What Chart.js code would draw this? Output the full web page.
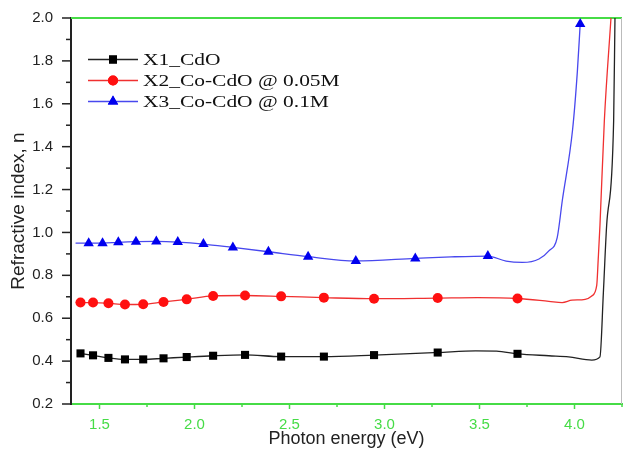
<!DOCTYPE html>
<html>
<head>
<meta charset="utf-8">
<script src="https://cdn.jsdelivr.net/npm/chart.js@4.4.1/dist/chart.umd.min.js"></script>
<style>
  html, body { margin: 0; padding: 0; background: #fff; }
  #wrap { width: 628px; height: 454px; }
</style>
</head>
<body>
<div id="wrap"><canvas id="chart"></canvas></div>
<script>
const seriesNames = ['X1_CdO', 'X2_Co-CdO @ 0.05M', 'X3_Co-CdO @ 0.1M'];

// X1_CdO : marked points and extra curve samples (photon energy eV, n)
const x1MarkE = [1.400, 1.466, 1.547, 1.634, 1.730, 1.837, 1.959, 2.098, 2.266, 2.456, 2.681, 2.945, 3.280, 3.700];
const x1MarkN = [0.436, 0.427, 0.415, 0.408, 0.408, 0.413, 0.419, 0.425, 0.429, 0.421, 0.421, 0.428, 0.440, 0.434];
const x1CurveE = [3.480, 3.590, 3.865, 3.969, 4.091, 4.134, 4.152, 4.169, 4.206, 4.213];
const x1CurveN = [0.448, 0.447, 0.425, 0.420, 0.405, 0.420, 0.720, 1.030, 1.520, 2.000];

// X2_Co-CdO @ 0.05M
const x2MarkE = [1.400, 1.466, 1.547, 1.634, 1.730, 1.837, 1.959, 2.098, 2.266, 2.456, 2.681, 2.945, 3.280, 3.700];
const x2MarkN = [0.673, 0.673, 0.670, 0.664, 0.665, 0.676, 0.688, 0.704, 0.706, 0.702, 0.696, 0.691, 0.694, 0.692];
const x2CurveE = [1.375, 3.490, 3.865, 3.935, 3.987, 4.056, 4.091, 4.117, 4.125, 4.134, 4.157, 4.192];
const x2CurveN = [0.674, 0.696, 0.679, 0.673, 0.684, 0.688, 0.704, 0.753, 0.878, 1.033, 1.520, 2.000];

// X3_Co-CdO @ 0.1M
const x3MarkE = [1.443, 1.516, 1.599, 1.692, 1.799, 1.912, 2.047, 2.202, 2.389, 2.598, 2.849, 3.162, 3.544, 4.030];
const x3MarkN = [0.950, 0.950, 0.954, 0.957, 0.958, 0.955, 0.946, 0.930, 0.910, 0.887, 0.867, 0.879, 0.890, 1.972];
const x3CurveE = [1.374, 3.350, 3.640, 3.726, 3.813, 3.865, 3.909, 3.936, 3.990, 4.015];
const x3CurveN = [0.950, 0.886, 0.866, 0.860, 0.876, 0.914, 0.976, 1.150, 1.480, 1.750];

const xTicks = [1.5, 2.0, 2.5, 3.0, 3.5, 4.0];
const yTicks = [0.2, 0.4, 0.6, 0.8, 1.0, 1.2, 1.4, 1.6, 1.8, 2.0];

const GREEN = '#46dc46';

function buildPoints(markE, markN, curveE, curveN) {
  const pts = markE.map((e, i) => ({ x: e, y: markN[i], mark: true }));
  curveE.forEach((e, i) => pts.push({ x: e, y: curveN[i], mark: false }));
  return pts.sort((a, b) => a.x - b.x);
}

function makeSet(label, pts, lineColor, markColor, style, radius) {
  return {
    label,
    data: pts,
    showLine: true,
    borderColor: lineColor,
    borderWidth: 1.3,
    backgroundColor: markColor,
    pointBackgroundColor: markColor,
    pointBorderColor: markColor,
    pointBorderWidth: 0,
    pointStyle: style,
    pointRadius: ctx => (ctx.raw && ctx.raw.mark ? radius : 0),
    pointHoverRadius: 0,
    cubicInterpolationMode: 'monotone',
    clip: { left: 0, right: 0, top: 10, bottom: 0 },
  };
}

// top green border, right grey border, tick marks, legend
const frame = {
  id: 'frame',
  beforeDatasetsDraw(chart) {
    const { ctx, chartArea: a } = chart;
    ctx.save();
    ctx.strokeStyle = GREEN;
    ctx.lineWidth = 2;
    ctx.beginPath();
    ctx.moveTo(a.left, a.top);
    ctx.lineTo(a.right, a.top);
    ctx.stroke();
    ctx.strokeStyle = '#bbbbbb';
    ctx.lineWidth = 1;
    ctx.beginPath();
    ctx.moveTo(a.right - 0.5, a.top);
    ctx.lineTo(a.right - 0.5, a.bottom);
    ctx.stroke();
    ctx.restore();
  },
  afterDraw(chart) {
    const { ctx, chartArea: a } = chart;
    const xs = chart.scales.x, ys = chart.scales.y;
    ctx.save();
    // y ticks
    ctx.strokeStyle = '#222';
    ctx.lineWidth = 1.5;
    yTicks.forEach((v, i) => {
      const py = ys.getPixelForValue(v);
      ctx.beginPath();
      ctx.moveTo(a.left - 9, py);
      ctx.lineTo(a.left, py);
      ctx.stroke();
      if (i < yTicks.length - 1) {
        const pm = ys.getPixelForValue((v + yTicks[i + 1]) / 2);
        ctx.beginPath();
        ctx.moveTo(a.left - 5, pm);
        ctx.lineTo(a.left, pm);
        ctx.stroke();
      }
    });
    // x ticks
    ctx.strokeStyle = GREEN;
    for (let v = 1.5; v <= 4.26; v += 0.25) {
      const px = xs.getPixelForValue(v);
      const major = Math.abs(v * 2 - Math.round(v * 2)) < 1e-6;
      ctx.beginPath();
      ctx.moveTo(px, a.bottom);
      ctx.lineTo(px, a.bottom + (major ? 5 : 3));
      ctx.stroke();
    }
    // legend
    const rows = [
      { c: '#222', m: '#000', s: 'rect' },
      { c: '#f03030', m: '#ff1010', s: 'circle' },
      { c: '#4848ee', m: '#0000ee', s: 'triangle' },
    ];
    rows.forEach((r, i) => {
      const y = 59.5 + i * 21;
      ctx.strokeStyle = r.c;
      ctx.lineWidth = 1.3;
      ctx.beginPath();
      ctx.moveTo(88, y);
      ctx.lineTo(138, y);
      ctx.stroke();
      ctx.fillStyle = r.m;
      Chart.helpers.drawPoint(ctx, { pointStyle: r.s, radius: r.s === 'triangle' ? 6 : r.s === 'rect' ? 5.7 : 5, borderWidth: 0 }, 113, y);
      ctx.fill();
      ctx.save();
      ctx.translate(143, y + 1);
      ctx.scale(1.34, 1);
      ctx.fillStyle = '#111';
      ctx.font = '16px "Liberation Serif"';
      ctx.textBaseline = 'middle';
      ctx.fillText(seriesNames[i], 0, 0);
      ctx.restore();
    });
    ctx.restore();
  }
};

new Chart(document.getElementById('chart'), {
  type: 'scatter',
  data: {
    datasets: [
      makeSet(seriesNames[0], buildPoints(x1MarkE, x1MarkN, x1CurveE, x1CurveN), '#222', '#000', 'rect', 5.7),
      makeSet(seriesNames[1], buildPoints(x2MarkE, x2MarkN, x2CurveE, x2CurveN), '#f03030', '#ff1010', 'circle', 5),
      makeSet(seriesNames[2], buildPoints(x3MarkE, x3MarkN, x3CurveE, x3CurveN), '#4848ee', '#0000ee', 'triangle', 6),
    ]
  },
  options: {
    responsive: true,
    maintainAspectRatio: false,
    animation: false,
    layout: { padding: { top: 17, right: 1, left: 0, bottom: 0 } },
    plugins: {
      legend: { display: false },
      tooltip: { enabled: false },
    },
    scales: {
      x: {
        type: 'linear',
        min: 1.35,
        max: 4.25,
        afterBuildTicks: s => { s.ticks = xTicks.map(v => ({ value: v })); },
        afterFit: s => { s.height = 50; },
        grid: { display: false, drawTicks: true, tickLength: 5 },
        border: { display: true, color: GREEN, width: 2 },
        ticks: {
          color: GREEN,
          padding: 7,
          font: { family: '"Liberation Sans", Arial, sans-serif', size: 15 },
          callback: v => v.toFixed(1),
        },
        title: {
          display: true,
          text: 'Photon energy (eV)',
          color: '#222',
          font: { family: '"Liberation Sans", Arial, sans-serif', size: 18 },
          padding: { top: 0, bottom: 4 },
        },
      },
      y: {
        min: 0.2,
        max: 2.0,
        afterBuildTicks: s => { s.ticks = yTicks.map(v => ({ value: v })); },
        afterFit: s => { s.width = 71; },
        grid: { display: false, drawTicks: true, tickLength: 9 },
        border: { display: true, color: '#222', width: 2 },
        ticks: {
          color: '#222',
          padding: 9,
          font: { family: '"Liberation Sans", Arial, sans-serif', size: 15 },
          callback: v => v.toFixed(1),
        },
        title: {
          display: true,
          text: 'Refractive index, n',
          color: '#222',
          font: { family: '"Liberation Sans", Arial, sans-serif', size: 19 },
          padding: { top: 7, bottom: 0 },
        },
      },
    },
  },
  plugins: [frame],
});
</script>
</body>
</html>
